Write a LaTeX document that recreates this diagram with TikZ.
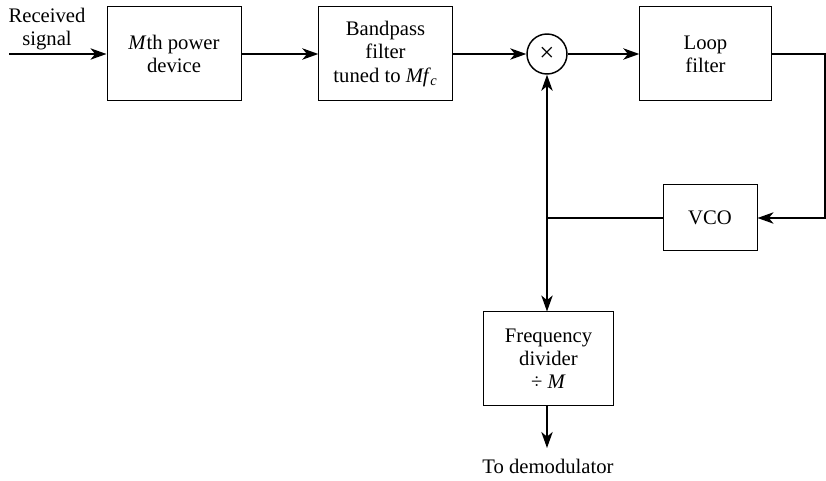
\documentclass[tikz,border=0pt]{standalone}
\usepackage{fontspec}
\setmainfont{Liberation Serif}
\usetikzlibrary{arrows.meta}
\newcommand\dfont{\fontsize{15.5}{17.4}\selectfont}
\begin{document}
\begin{tikzpicture}[x=0.75pt,y=-0.75pt,
  blk/.style={draw, line width=0.75pt, align=center, inner sep=0pt, font=\dfont},
  lbl/.style={align=center, inner sep=0pt, font=\dfont},
  mult/.style={draw, circle, line width=1.1pt, minimum size=30pt, inner sep=0pt, font=\fontsize{20}{20}\selectfont},
  sig/.style={line width=1.6pt, line join=miter},
  arr/.style={sig, -{Stealth[length=12pt,width=8.5pt,inset=3.5pt]}}]
\useasboundingbox (0,0) rectangle (826,481);
\node[blk, minimum width=100.5pt, minimum height=70.5pt] (pow) at (174,54) {\textit{M}th power\\device};
\node[blk, minimum width=100pt, minimum height=70.5pt] (bpf) at (385.5,54) {Bandpass\\filter\\tuned to \textit{Mf}\kern-0.5pt\textsubscript{\textit{c}}};
\node[mult] (mix) at (547,54) {×};
\node[blk, minimum width=98.5pt, minimum height=70.5pt] (lpf) at (705.5,54) {Loop\\filter};
\node[blk, minimum width=70.5pt, minimum height=49.5pt] (vco) at (710,218) {VCO};
\node[blk, minimum width=97pt, minimum height=70.5pt] (div) at (548.5,359) {Frequency\\divider\\÷ \textit{M}};
\node[lbl] (rx) at (47,29) {Received\\signal};
\node[lbl, anchor=base] (dem) at (548,474) {To demodulator};
\coordinate (in) at (9,54);
\coordinate (rt) at (825.5,54);
\coordinate (rb) at (825.5,218);
\coordinate (jn) at (547,218);
\coordinate (out) at (547,448);
\draw[arr] (in) -- (pow.west);
\draw[arr] (pow) -- (bpf);
\draw[arr] (bpf) -- (mix);
\draw[arr] (mix) -- (lpf);
\draw[arr] (lpf.east) -- (rt) -- (rb) -- (vco.east);
\draw[sig] (vco.west) -- (jn);
\draw[arr] (jn) -- (mix.south);
\draw[arr] (jn) -- (jn |- div.north);
\draw[arr] (jn |- div.south) -- (out);
\end{tikzpicture}
\end{document}
